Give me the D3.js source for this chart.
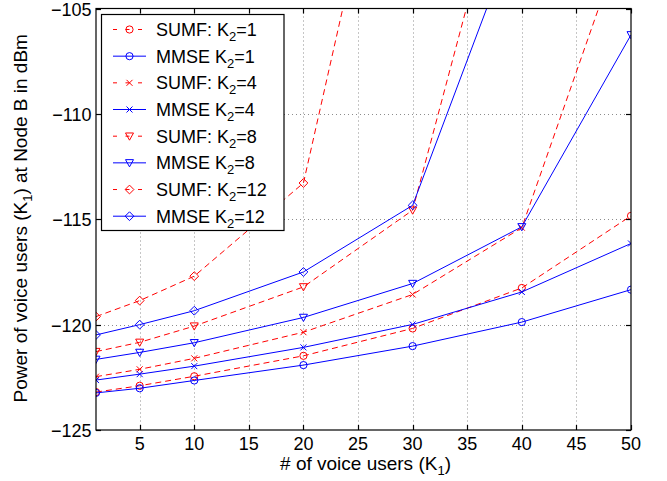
<!DOCTYPE html>
<html>
<head>
<meta charset="utf-8">
<script src="https://cdn.jsdelivr.net/npm/d3@7"></script>
<style>
  html, body { margin: 0; padding: 0; background: #fff; }
  svg text { font-family: "Liberation Sans", Arial, Helvetica, sans-serif; fill: #000; }
</style>
</head>
<body>
<svg id="chart" width="667" height="481"></svg>
<script>
// Number of voice users K1 at which each curve is evaluated
const users = [1, 5, 10, 20, 30, 40, 50];

// Received power of voice users at Node B (dBm); null = not computed
const sumfK1  = [-123.20, -122.90, -122.45, -121.48, -120.18, -118.26, -114.84];
const mmseK1  = [-123.24, -123.02, -122.65, -121.92, -121.02, -119.88, -118.34];
const sumfK4  = [-122.47, -122.12, -121.60, -120.36, -118.57, -115.40, -100.60];
const mmseK4  = [-122.63, -122.35, -121.97, -121.08, -119.99, -118.45, -116.15];
const sumfK8  = [-121.28, -120.84, -120.07, -118.21, -114.57, -95.10, null];
const mmseK8  = [-121.65, -121.32, -120.86, -119.66, -118.05, -115.36, -106.25];
const sumfK12 = [-119.62, -118.86, -117.70, -113.28, -90.30, null, null];
const mmseK12 = [-120.49, -120.00, -119.34, -117.50, -114.34, -100.57, null];

// Axis ticks
const xTicks = [5, 10, 15, 20, 25, 30, 35, 40, 45, 50];
const yTicks = [-125, -120, -115, -110, -105];

// Legend entries: receiver, K2 value, marker, values
const seriesList = [
  { rx: "SUMF:", k2: "1",  marker: "circle",   dashed: true,  values: sumfK1 },
  { rx: "MMSE",  k2: "1",  marker: "circle",   dashed: false, values: mmseK1 },
  { rx: "SUMF:", k2: "4",  marker: "x",        dashed: true,  values: sumfK4 },
  { rx: "MMSE",  k2: "4",  marker: "x",        dashed: false, values: mmseK4 },
  { rx: "SUMF:", k2: "8",  marker: "triangle", dashed: true,  values: sumfK8 },
  { rx: "MMSE",  k2: "8",  marker: "triangle", dashed: false, values: mmseK8 },
  { rx: "SUMF:", k2: "12", marker: "diamond",  dashed: true,  values: sumfK12 },
  { rx: "MMSE",  k2: "12", marker: "diamond",  dashed: false, values: mmseK12 }
];

const RED = "#ff0000", BLUE = "#0000ff";
const FONT = 18, TITLE_FONT = 19;

const svg = d3.select("#chart");
const plotL = 96, plotR = 631, plotT = 8.5, plotB = 430;

const x = d3.scaleLinear().domain([1, 50]).range([plotL, plotR]);
const y = d3.scaleLinear().domain([-125, -105]).range([plotB, plotT]);

// Clip region for the plotted curves
svg.append("defs").append("clipPath").attr("id", "plotClip")
  .append("rect").attr("x", plotL).attr("y", plotT)
  .attr("width", plotR - plotL).attr("height", plotB - plotT);

// Dotted grid
const grid = svg.append("g").attr("stroke", "#8c8c8c").attr("stroke-width", 1)
  .attr("stroke-dasharray", "1,3");
xTicks.filter(t => t < 50).forEach(t => {
  const px = Math.round(x(t)) + 0.5;
  grid.append("line").attr("x1", px).attr("x2", px).attr("y1", plotT).attr("y2", plotB);
});
yTicks.filter(t => t > -125 && t < -105).forEach(t => {
  const py = Math.round(y(t)) + 0.5;
  grid.append("line").attr("x1", plotL).attr("x2", plotR).attr("y1", py).attr("y2", py);
});

// Marker shapes centred at the origin
function markerPath(type) {
  const p = d3.path();
  if (type === "circle") {
    p.moveTo(3.6, 0); p.arc(0, 0, 3.6, 0, 2 * Math.PI);
  } else if (type === "x") {
    p.moveTo(-3, -3); p.lineTo(3, 3); p.moveTo(-3, 3); p.lineTo(3, -3);
  } else if (type === "triangle") {
    p.moveTo(-4, -3.2); p.lineTo(4, -3.2); p.lineTo(0, 4); p.closePath();
  } else if (type === "diamond") {
    p.moveTo(0, -4.4); p.lineTo(4.4, 0); p.lineTo(0, 4.4); p.lineTo(-4.4, 0); p.closePath();
  }
  return p.toString();
}

const line = d3.line()
  .defined(d => d[1] !== null)
  .x(d => x(d[0]))
  .y(d => y(d[1]));

const plot = svg.append("g").attr("clip-path", "url(#plotClip)");
seriesList.forEach(s => {
  const color = s.dashed ? RED : BLUE;
  const pts = users.map((u, i) => [u, s.values[i]]);
  const g = plot.append("g");
  g.append("path").datum(pts)
    .attr("d", line)
    .attr("fill", "none")
    .attr("stroke", color)
    .attr("stroke-width", 1)
    .attr("stroke-dasharray", s.dashed ? "6,4" : null);
  g.selectAll("path.mk").data(pts.filter(d => d[1] !== null)).enter()
    .append("path").attr("class", "mk")
    .attr("d", markerPath(s.marker))
    .attr("transform", d => `translate(${x(d[0])},${y(d[1])})`)
    .attr("fill", "none")
    .attr("stroke", color)
    .attr("stroke-width", 1);
});

// Axes box and inward ticks on all four sides
const frame = svg.append("g").attr("stroke", "#000").attr("stroke-width", 1.2);
frame.append("rect").attr("x", plotL).attr("y", plotT)
  .attr("width", plotR - plotL).attr("height", plotB - plotT).attr("fill", "none");
xTicks.forEach(t => {
  const px = Math.round(x(t)) + 0.5;
  frame.append("line").attr("x1", px).attr("x2", px).attr("y1", plotB).attr("y2", plotB - 5);
  frame.append("line").attr("x1", px).attr("x2", px).attr("y1", plotT).attr("y2", plotT + 5);
});
yTicks.forEach(t => {
  const py = Math.round(y(t)) + 0.5;
  frame.append("line").attr("x1", plotL).attr("x2", plotL + 5).attr("y1", py).attr("y2", py);
  frame.append("line").attr("x1", plotR).attr("x2", plotR - 5).attr("y1", py).attr("y2", py);
});

// Tick labels
svg.append("g").selectAll("text").data(xTicks).enter().append("text")
  .attr("x", d => x(d)).attr("y", 449.5)
  .attr("text-anchor", "middle").attr("font-size", FONT)
  .text(d => d);
svg.append("g").selectAll("text").data(yTicks).enter().append("text")
  .attr("x", 91.5).attr("y", d => y(d) + 7)
  .attr("text-anchor", "end").attr("font-size", FONT)
  .text(d => "\u2212" + Math.abs(d));

// Axis titles with subscripts
const xt = svg.append("text").attr("x", (plotL + plotR) / 2 + 2).attr("y", 470)
  .attr("text-anchor", "middle").attr("font-size", TITLE_FONT);
xt.append("tspan").text("# of voice users (K");
xt.append("tspan").attr("font-size", 13).attr("dy", 5).text("1");
xt.append("tspan").attr("dy", -5).text(")");

const yt = svg.append("text")
  .attr("transform", `translate(27,${(plotT + plotB) / 2 - 1}) rotate(-90)`)
  .attr("text-anchor", "middle").attr("font-size", TITLE_FONT);
yt.append("tspan").text("Power of voice users (K");
yt.append("tspan").attr("font-size", 13).attr("dy", 5).text("1");
yt.append("tspan").attr("dy", -5).text(") at Node B in dBm");

// Legend
const lg = svg.append("g");
lg.append("rect").attr("x", 101.5).attr("y", 14.5).attr("width", 182.5).attr("height", 216)
  .attr("fill", "#fff").attr("stroke", "#000").attr("stroke-width", 1.2);
seriesList.forEach((s, i) => {
  const cy = 29.5 + i * 26.67;
  const color = s.dashed ? RED : BLUE;
  const row = lg.append("g");
  row.append("line").attr("x1", 113).attr("x2", 146).attr("y1", cy).attr("y2", cy)
    .attr("stroke", color).attr("stroke-width", 1)
    .attr("stroke-dasharray", s.dashed ? "4,8.5" : null);
  row.append("path").attr("d", markerPath(s.marker))
    .attr("transform", `translate(129.5,${cy})`)
    .attr("fill", "none").attr("stroke", color).attr("stroke-width", 1);
  const t = row.append("text").attr("x", 156).attr("y", cy + 6.5).attr("font-size", FONT);
  t.append("tspan").text(s.rx + " K");
  t.append("tspan").attr("font-size", 13).attr("dy", 5).text("2");
  t.append("tspan").attr("dy", -5).text("=" + s.k2);
});
</script>
</body>
</html>
